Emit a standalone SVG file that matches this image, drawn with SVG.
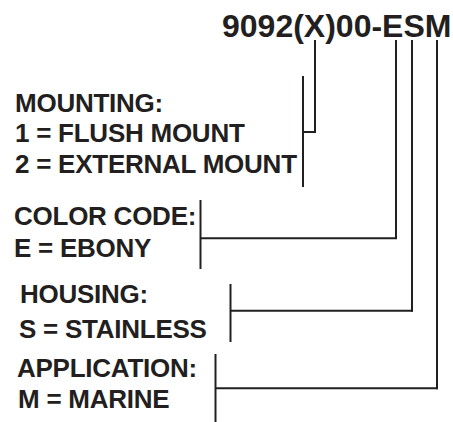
<svg xmlns="http://www.w3.org/2000/svg" width="453" height="422" viewBox="0 0 453 422">
<style>
.t{font-family:"Liberation Sans",Arial,sans-serif;font-weight:bold;fill:#231f20;font-size:26px;letter-spacing:-0.25px}
.title{font-size:32px;letter-spacing:0}
.c line{stroke:#231f20;stroke-width:2;fill:none}
</style>
<rect width="453" height="422" fill="#ffffff"/>
<g id="title"><text class="t title" x="222" y="37">9092(X)00-ESM</text></g>
<g id="mounting">
<text class="t" x="15" y="112">MOUNTING:</text>
<text class="t" x="15" y="142">1 = FLUSH MOUNT</text>
<text class="t" x="15" y="173">2 = EXTERNAL MOUNT</text>
</g>
<g id="color">
<text class="t" x="14" y="225">COLOR CODE:</text>
<text class="t" x="14" y="257">E = EBONY</text>
</g>
<g id="housing">
<text class="t" x="20" y="303">HOUSING:</text>
<text class="t" x="19" y="338">S = STAINLESS</text>
</g>
<g id="application">
<text class="t" x="17" y="377">APPLICATION:</text>
<text class="t" x="18" y="408">M = MARINE</text>
</g>
<g class="c" id="connectors">
<line x1="303" y1="76" x2="303" y2="187"/>
<line x1="315" y1="40" x2="315" y2="132"/>
<line x1="303" y1="132" x2="316" y2="132"/>
<line x1="200.5" y1="200" x2="200.5" y2="269"/>
<line x1="396" y1="40" x2="396" y2="239"/>
<line x1="200.5" y1="238.3" x2="397" y2="238.3"/>
<line x1="230.5" y1="284" x2="230.5" y2="342"/>
<line x1="412" y1="40" x2="412" y2="311.7"/>
<line x1="230.5" y1="310.7" x2="413" y2="310.7"/>
<line x1="215.5" y1="354" x2="215.5" y2="422"/>
<line x1="437" y1="40" x2="437" y2="389.3"/>
<line x1="215.5" y1="388.3" x2="438" y2="388.3"/>
</g>
</svg>
